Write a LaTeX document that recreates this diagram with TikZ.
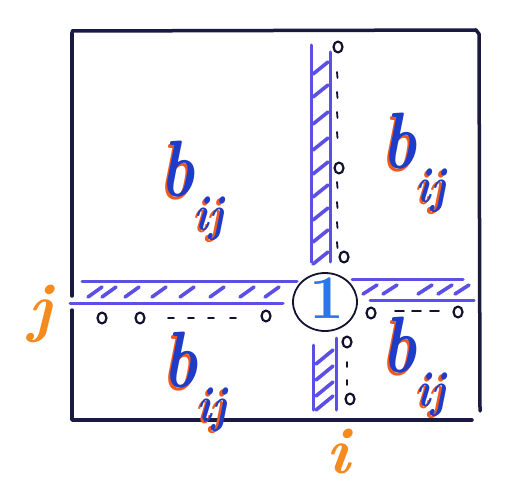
\documentclass[tikz,border=0pt]{standalone}
\usepackage{fontspec}
\usetikzlibrary{shapes.geometric}
\definecolor{frame}{HTML}{1A1A40}
\definecolor{bar}{HTML}{5B4FE6}
\definecolor{ink}{HTML}{121230}
\definecolor{bblue}{HTML}{1E3CC8}
\definecolor{borange}{HTML}{EE5A1E}
\definecolor{oneblue}{HTML}{2A78E8}
\definecolor{lab}{HTML}{F58A1E}
\newcommand{\bijtext}{\itshape\bfseries b\raisebox{-0.42em}{\fontsize{50}{50}\selectfont ij}}
\newcommand{\bijlabel}{\scalebox{0.8}[1]{\rlap{\kern-3pt\raisebox{-2.5pt}{\color{borange}\bijtext}}{\bijtext}}}
\begin{document}
\begin{tikzpicture}[x=1pt,y=-1pt,line cap=round,line join=round,
  frameline/.style={draw=frame,line width=3.5pt},
  barline/.style={draw=bar,line width=3pt},
  hatch/.style={draw=bar,line width=3.6pt},
  dsh/.style={draw=ink,line width=1.8pt},
  blab/.style={inner sep=0pt,text=bblue,font=\fontsize{80}{80}\selectfont},
  olab/.style={inner sep=0pt,text=lab,font=\itshape\bfseries\fontsize{66}{66}\selectfont}]
\useasboundingbox (0,0) rectangle (526,492);
\fill[white] (0,0) rectangle (526,492);
% frame
\draw[frameline] (72,33) -- (72,296);
\draw[frameline] (72,310) -- (72,420) -- (472,420);
\draw[frameline] (72,31) -- (476,30) -- (479,34) -- (480,411);
% upper vertical bar
\draw[barline] (311,45) -- (311,262);
\draw[barline] (330,52) -- (330,262);
\foreach \y in {62,85,112,138,162,185,208,230,252}
  \draw[hatch] (313,\y+12) -- (328,\y);
% lower vertical bar
\draw[barline] (313,345) -- (313,410);
\draw[barline] (336,338) -- (336,410);
\foreach \y in {350,366,382,396}
  \draw[hatch] (316,\y+14) -- (333,\y);
% left horizontal bar
\draw[barline] (82,281) -- (297,281);
\draw[barline] (70,303) -- (283,303);
\foreach \x in {88,102,125,152,180,210,240,265}
  \draw[hatch] (\x,297) -- (\x+14,287);
% right horizontal bar
\draw[barline] (352,279) -- (463,279);
\draw[barline] (370,300) -- (474,300);
\foreach \x in {363,383,418,438,455}
  \draw[hatch] (\x,294) -- (\x+14,285);
% small circles
\foreach \p in {(338,47),(339,168),(344,257),(102,318),(140,318),(266,316),(371,313),(458,312),(347,342),(350,399)}
  \draw[draw=ink,line width=2.2pt] \p ellipse (4.5pt and 5.5pt);
% dashes
\foreach \y in {72,92,112,132,182,202,222,242}
  \draw[dsh] (337,\y) -- (337.5,\y+6);
\foreach \y in {362,380}
  \draw[dsh] (347,\y) -- (347,\y+5);
\foreach \x in {168,188,208,230}
  \draw[dsh] (\x,318) -- (\x+6,318);
\foreach \x in {395,412,430}
  \draw[dsh] (\x,311) -- (\x+9,311);
% central circle with 1
\node[ellipse,draw=ink,line width=1.8pt,minimum width=64pt,minimum height=58pt,inner sep=0pt,
  text=oneblue,font=\bfseries\fontsize{64}{64}\selectfont] (one) at (325,302) {};
\node[inner sep=0pt,text=oneblue,font=\bfseries\fontsize{62}{62}\selectfont] (onetext) at (327,298) {1};
% b_ij labels
\node[blab] (btl) at (192,192) {\bijlabel};
\node[blab] (btr) at (414,164) {\bijlabel};
\node[blab] (bbl) at (195,383) {\bijlabel};
\node[blab] (bbr) at (414,368) {\bijlabel};
% axis labels
\node[olab] (j) at (40,314) {j};
\node[olab] (i) at (338,452) {i};
\end{tikzpicture}
\end{document}
